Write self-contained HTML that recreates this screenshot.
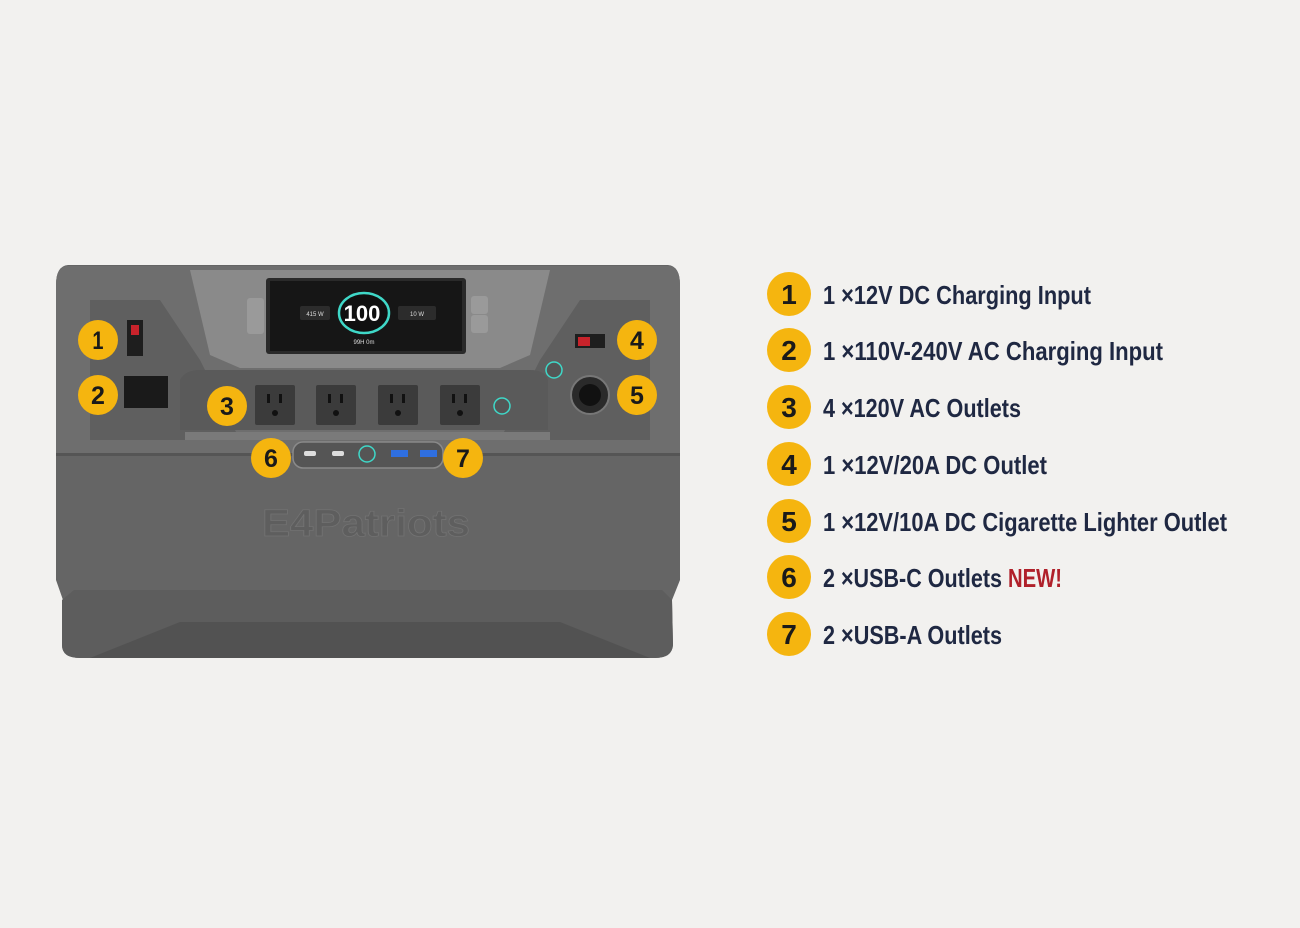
<!DOCTYPE html>
<html><head><meta charset="utf-8"><style>
html,body{margin:0;padding:0;background:#f2f1ef;width:1300px;height:928px;overflow:hidden}
svg{display:block}
</style></head><body>
<svg width="1300" height="928" viewBox="0 0 1300 928" xmlns="http://www.w3.org/2000/svg" font-family="Liberation Sans, sans-serif">
<rect width="1300" height="928" fill="#f2f1ef"/>
<!-- device body -->
<path d="M68,265 L668,265 Q680,266 680,285 L680,580 L672,600 L673,645 Q672,658 655,658 L80,658 Q62,658 62,645 L63,600 L56,580 L56,285 Q56,266 68,265 Z" fill="#656565"/>
<path d="M62,600 L74,590 L662,590 L672,600 L673,645 Q672,658 655,658 L80,658 Q62,658 62,645 Z" fill="#5d5d5d"/>
<path d="M90,658 L180,622 L560,622 L650,658 Z" fill="#525252"/>
<!-- upper panel -->
<path d="M56,285 Q56,266 68,266 L668,266 Q680,266 680,285 L680,455 L56,455 Z" fill="#6e6e6e"/>
<path d="M90,300 L160,300 L200,360 L240,440 L90,440 Z" fill="#5f5f5f"/>
<path d="M650,300 L580,300 L540,360 L500,440 L650,440 Z" fill="#5f5f5f"/>
<path d="M190,270 L550,270 L530,355 L500,368 L240,368 L210,355 Z" fill="#8a8a8a"/>
<path d="M180,380 Q185,370 200,370 L530,370 Q545,370 548,380 L548,430 L180,430 Z" fill="#5a5a5a"/>
<rect x="185" y="432" width="365" height="8" fill="#7a7a7a"/>
<rect x="56" y="453" width="624" height="3" fill="#555"/>
<!-- screen -->
<rect x="266" y="278" width="200" height="76" rx="3" fill="#2a2a2a"/>
<rect x="270" y="281" width="192" height="70" fill="#161616"/>
<ellipse cx="364" cy="313" rx="25" ry="20" fill="#101010" stroke="#3fd8c8" stroke-width="2.5"/>
<text x="362" y="321" font-size="22" font-weight="bold" fill="#fff" text-anchor="middle">100</text>
<rect x="300" y="306" width="30" height="14" rx="2" fill="#2c2c2c"/>
<text x="315" y="316" font-size="6" fill="#ddd" text-anchor="middle">415 W</text>
<rect x="398" y="306" width="38" height="14" rx="2" fill="#2c2c2c"/>
<text x="417" y="316" font-size="6" fill="#ddd" text-anchor="middle">10 W</text>
<text x="364" y="344" font-size="6" fill="#ddd" text-anchor="middle">99H 0m</text>
<rect x="247" y="298" width="17" height="36" rx="3" fill="#9a9a9a"/>
<rect x="471" y="296" width="17" height="18" rx="3" fill="#9a9a9a"/>
<rect x="471" y="315" width="17" height="18" rx="3" fill="#9a9a9a"/>
<!-- left ports -->
<rect x="127" y="320" width="16" height="36" fill="#1e1e1e"/>
<rect x="131" y="325" width="8" height="10" fill="#c8232b"/>
<rect x="124" y="376" width="44" height="32" fill="#1a1a1a"/>
<!-- AC outlets -->
<g fill="#3b3b3b">
<rect x="255" y="385" width="40" height="40" rx="2"/><rect x="316" y="385" width="40" height="40" rx="2"/>
<rect x="378" y="385" width="40" height="40" rx="2"/><rect x="440" y="385" width="40" height="40" rx="2"/>
</g>
<g fill="#111">
<rect x="267" y="394" width="3" height="9"/><rect x="279" y="394" width="3" height="9"/><circle cx="275" cy="413" r="3"/>
<rect x="328" y="394" width="3" height="9"/><rect x="340" y="394" width="3" height="9"/><circle cx="336" cy="413" r="3"/>
<rect x="390" y="394" width="3" height="9"/><rect x="402" y="394" width="3" height="9"/><circle cx="398" cy="413" r="3"/>
<rect x="452" y="394" width="3" height="9"/><rect x="464" y="394" width="3" height="9"/><circle cx="460" cy="413" r="3"/>
</g>
<circle cx="502" cy="406" r="8" fill="#555" stroke="#3fd8c8" stroke-width="1.5"/>
<circle cx="554" cy="370" r="8" fill="#555" stroke="#3fd8c8" stroke-width="1.5"/>
<!-- right ports -->
<rect x="575" y="334" width="30" height="14" fill="#1e1e1e"/>
<rect x="578" y="337" width="12" height="9" fill="#c8232b"/>
<circle cx="590" cy="395" r="19" fill="#2a2a2a" stroke="#777" stroke-width="2"/>
<circle cx="590" cy="395" r="11" fill="#111"/>
<!-- USB strip -->
<rect x="293" y="442" width="150" height="26" rx="10" fill="#555" stroke="#8a8a8a" stroke-width="1.5"/>
<rect x="304" y="451" width="12" height="5" rx="2" fill="#ddd"/>
<rect x="332" y="451" width="12" height="5" rx="2" fill="#ddd"/>
<circle cx="367" cy="454" r="8" fill="#555" stroke="#3fd8c8" stroke-width="1.5"/>
<rect x="391" y="450" width="17" height="7" fill="#2f6fe0"/>
<rect x="420" y="450" width="17" height="7" fill="#2f6fe0"/>
<!-- logo -->
<text x="262" y="536" font-size="38" font-weight="bold" fill="#5e5e5e" stroke="#727272" stroke-width="0.8" textLength="208" lengthAdjust="spacingAndGlyphs">E4Patriots</text>
<!-- device badges -->
<g font-weight="bold" font-size="25" text-anchor="middle" fill="#1a1a1a">
<circle cx="98" cy="340" r="20" fill="#f5b50f"/><text x="98" y="349" transform="translate(98 0) scale(0.8 1) translate(-98 0)">1</text>
<circle cx="98" cy="395" r="20" fill="#f5b50f"/><text x="98" y="404">2</text>
<circle cx="227" cy="406" r="20" fill="#f5b50f"/><text x="227" y="415">3</text>
<circle cx="637" cy="340" r="20" fill="#f5b50f"/><text x="637" y="349">4</text>
<circle cx="637" cy="395" r="20" fill="#f5b50f"/><text x="637" y="404">5</text>
<circle cx="271" cy="458" r="20" fill="#f5b50f"/><text x="271" y="467">6</text>
<circle cx="463" cy="458" r="20" fill="#f5b50f"/><text x="463" y="467">7</text>
</g>
<!-- legend -->
<g font-weight="bold" font-size="28" text-anchor="middle" fill="#1a1a1a">
<circle cx="789" cy="294" r="22" fill="#f5b50f"/><text x="789" y="304">1</text>
<circle cx="789" cy="350" r="22" fill="#f5b50f"/><text x="789" y="360">2</text>
<circle cx="789" cy="407" r="22" fill="#f5b50f"/><text x="789" y="417">3</text>
<circle cx="789" cy="464" r="22" fill="#f5b50f"/><text x="789" y="474">4</text>
<circle cx="789" cy="521" r="22" fill="#f5b50f"/><text x="789" y="531">5</text>
<circle cx="789" cy="577" r="22" fill="#f5b50f"/><text x="789" y="587">6</text>
<circle cx="789" cy="634" r="22" fill="#f5b50f"/><text x="789" y="644">7</text>
</g>
<g font-weight="bold" font-size="26" fill="#1f2842">
<text x="823" y="304" textLength="268" lengthAdjust="spacingAndGlyphs">1 ×12V DC Charging Input</text>
<text x="823" y="360" textLength="340" lengthAdjust="spacingAndGlyphs">1 ×110V-240V AC Charging Input</text>
<text x="823" y="417" textLength="198" lengthAdjust="spacingAndGlyphs">4 ×120V AC Outlets</text>
<text x="823" y="474" textLength="224" lengthAdjust="spacingAndGlyphs">1 ×12V/20A DC Outlet</text>
<text x="823" y="531" textLength="404" lengthAdjust="spacingAndGlyphs">1 ×12V/10A DC Cigarette Lighter Outlet</text>
<text x="823" y="587" textLength="179" lengthAdjust="spacingAndGlyphs">2 ×USB-C Outlets</text>
<text x="1008" y="587" textLength="54" lengthAdjust="spacingAndGlyphs" fill="#b0202a">NEW!</text>
<text x="823" y="644" textLength="179" lengthAdjust="spacingAndGlyphs">2 ×USB-A Outlets</text>
</g>
</svg>
</body></html>
